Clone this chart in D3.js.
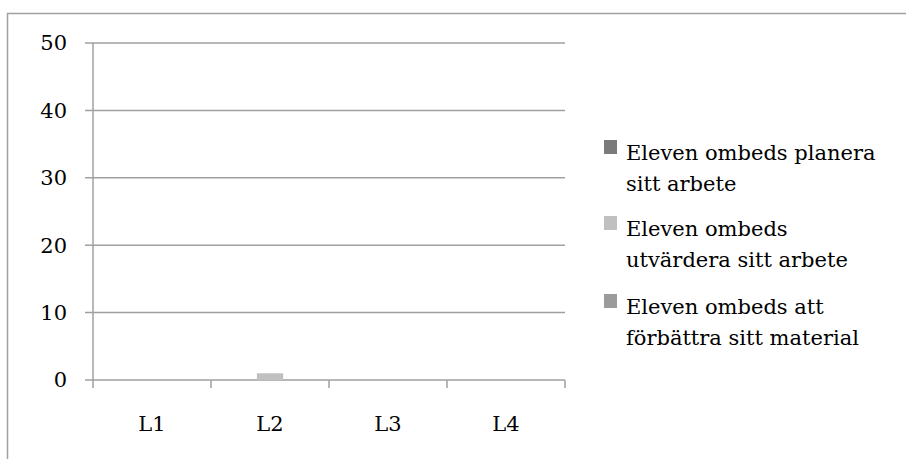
<!DOCTYPE html>
<html><head><meta charset="utf-8">
<script src="https://cdn.jsdelivr.net/npm/d3@7"></script>
<style>html,body{margin:0;padding:0;background:#fff;}svg{display:block;}</style>
</head><body>
<svg id="c" width="906" height="459"></svg>
<script>
const categories = ["L1", "L2", "L3", "L4"];
const seriesNames = [
  ["Eleven ombeds planera", "sitt arbete"],
  ["Eleven ombeds", "utvärdera sitt arbete"],
  ["Eleven ombeds att", "förbättra sitt material"]
];
const planera = [0, 0, 0, 0];
const utvardera = [0, 1, 0, 0];
const forbattra = [0, 0, 0, 0];
const seriesColors = ["#7b7b7b", "#c0c0c0", "#9b9b9b"];
const yTicks = [0, 10, 20, 30, 40, 50];

(function () {
const series = [planera, utvardera, forbattra];
const svg = d3.select("#c");
const font = "DejaVu Serif";
const fs = 21;

svg.append("path").attr("d", "M7.5,459 L7.5,13.5 L906,13.5")
  .attr("fill", "none").attr("stroke", "#a0a0a0").attr("stroke-width", 1.5);

const pL = 93, pR = 565, pT = 43, pB = 380;
const x = d3.scaleBand().domain(categories).range([pL, pR]);
const y = d3.scaleLinear().domain([0, 50]).range([pB, pT]);
const bw = x.bandwidth() / 4.5;
const x1 = d3.scaleBand().domain([0, 1, 2]).range([bw * 0.75, x.bandwidth() - bw * 0.75]);

svg.append("g").selectAll("line").data(yTicks).join("line")
  .attr("x1", pL - 8).attr("x2", pR)
  .attr("y1", d => y(d)).attr("y2", d => y(d))
  .attr("stroke", "#a0a0a0").attr("stroke-width", 1.5);

svg.append("line").attr("x1", pL).attr("x2", pL).attr("y1", pT).attr("y2", pB)
  .attr("stroke", "#a0a0a0").attr("stroke-width", 1.5);

const xt = categories.map(c => x(c)).concat([pR]);
svg.append("g").selectAll("line").data(xt).join("line")
  .attr("x1", d => d).attr("x2", d => d).attr("y1", pB).attr("y2", pB + 8)
  .attr("stroke", "#a0a0a0").attr("stroke-width", 1.5);

svg.append("g").selectAll("text").data(yTicks).join("text")
  .attr("x", 67).attr("y", d => y(d)).attr("dy", "0.35em")
  .attr("text-anchor", "end").attr("font-family", font).attr("font-size", fs)
  .attr("fill", "#000").text(d => d);

svg.append("g").selectAll("text").data(categories).join("text")
  .attr("x", d => x(d) + x.bandwidth() / 2).attr("y", 431)
  .attr("text-anchor", "middle").attr("font-family", font).attr("font-size", fs)
  .attr("fill", "#000").text(d => d);

series.forEach((vals, si) => {
  svg.append("g").selectAll("rect").data(vals).join("rect")
    .attr("x", (d, i) => x(categories[i]) + x1(si))
    .attr("width", x1.bandwidth())
    .attr("y", d => y(d))
    .attr("height", d => pB - y(d))
    .attr("fill", seriesColors[si]);
});

const legTop = [140, 216, 294];
seriesNames.forEach((lines, i) => {
  const g = svg.append("g");
  g.append("rect").attr("x", 604).attr("y", legTop[i]).attr("width", 13).attr("height", 14)
    .attr("fill", seriesColors[i]);
  lines.forEach((t, j) => {
    g.append("text").attr("x", 626).attr("y", legTop[i] + 20 + j * 31)
      .attr("font-family", font).attr("font-size", fs).attr("fill", "#000").text(t);
  });
});
})();
</script>
</body></html>
